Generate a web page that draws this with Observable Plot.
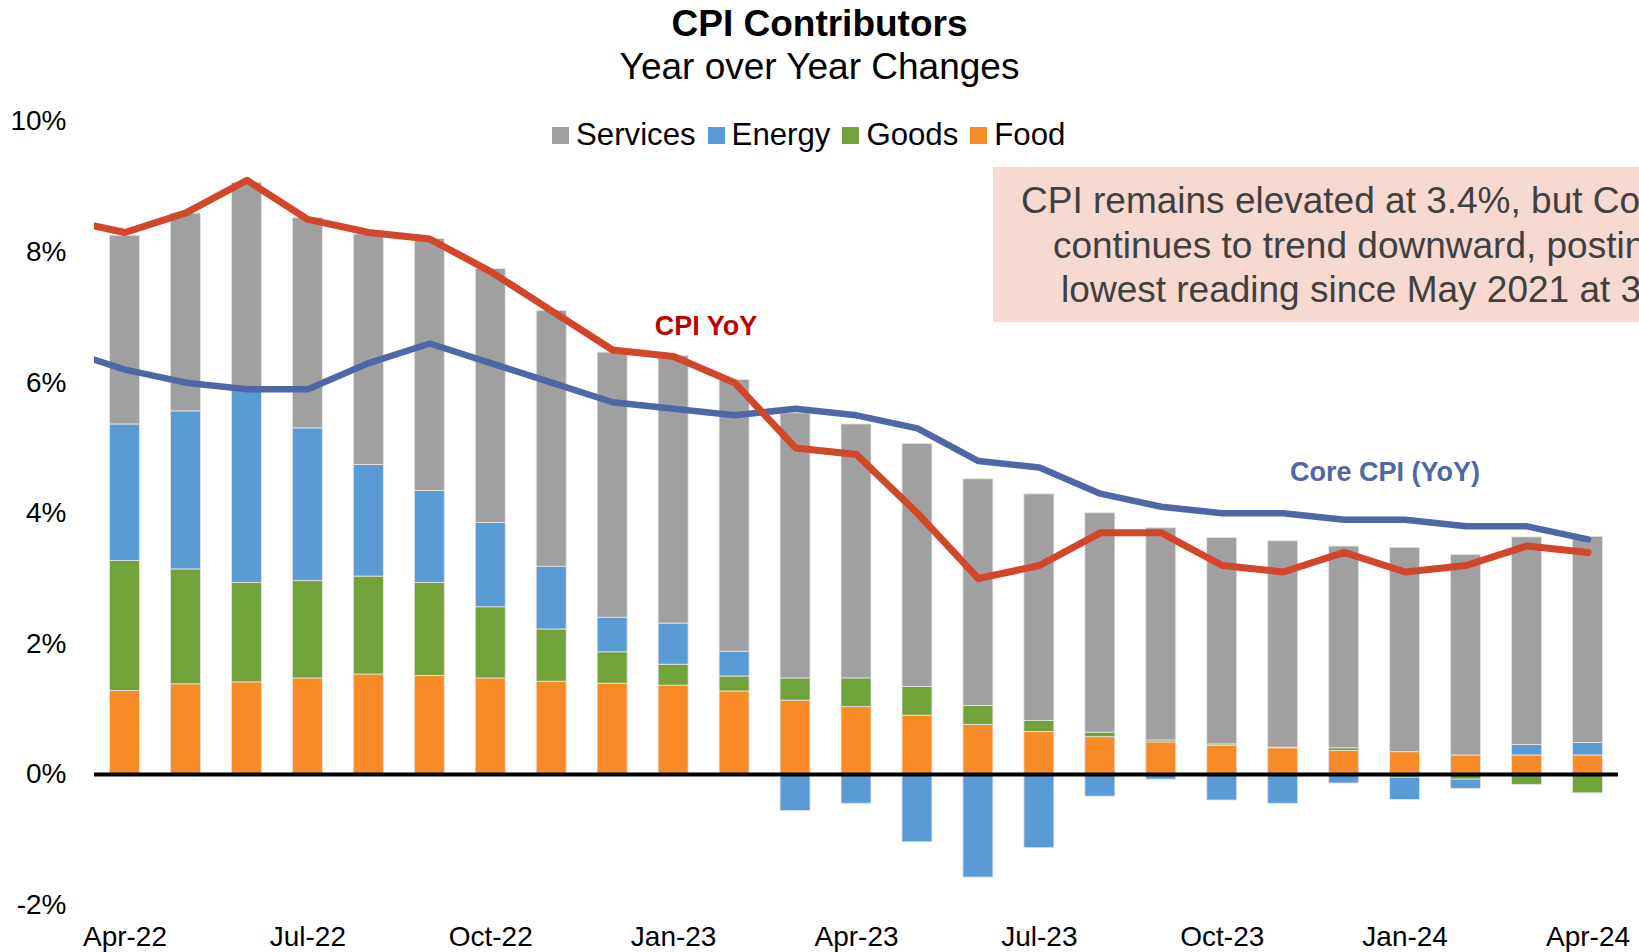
<!DOCTYPE html>
<html>
<head>
<meta charset="utf-8">
<script src="https://cdn.jsdelivr.net/npm/d3@7"></script>
<script src="https://cdn.jsdelivr.net/npm/@observablehq/plot@0.6"></script>
<style>
  html, body { margin: 0; padding: 0; background: #fff; overflow: hidden; }
  body { width: 1639px; height: 952px; position: relative; font-family: "Liberation Sans", Arial, sans-serif; color: #000; }
  #title { position: absolute; left: 0; width: 1639px; top: 5.4px; text-align: center; font-weight: bold; font-size: 37px; line-height: 37px; }
  #subtitle { position: absolute; left: 0; width: 1639px; top: 47.5px; text-align: center; font-size: 37px; line-height: 37px; }
  #chart { position: absolute; left: 0; top: 100px; }
  #legend { position: absolute; left: 552px; top: 119px; height: 32px; display: flex; align-items: center; font-size: 31.2px; line-height: 32px; white-space: nowrap; }
  #legend .item { display: flex; align-items: center; margin-right: 12px; }
  #legend .sw { width: 17px; height: 17px; margin-right: 7px; }
  #note { position: absolute; left: 993px; top: 166.7px; width: 780px; height: 155.5px; background: #F8D9D2; color: #404040; font-size: 37px; line-height: 44.2px; box-sizing: border-box; padding-top: 12.8px; white-space: nowrap; }
  #note div { position: relative; width: 780px; text-align: center; left: 0; }
</style>
</head>
<body>
<div id="title">CPI Contributors</div>
<div id="subtitle">Year over Year Changes</div>
<div id="chart"></div>
<div id="legend"></div>
<div id="note"></div>
<script>
// ---- data ----
const months = ["Apr-22","May-22","Jun-22","Jul-22","Aug-22","Sep-22","Oct-22","Nov-22","Dec-22",
  "Jan-23","Feb-23","Mar-23","Apr-23","May-23","Jun-23","Jul-23","Aug-23","Sep-23","Oct-23","Nov-23","Dec-23",
  "Jan-24","Feb-24","Mar-24","Apr-24"];
const food     = [1.28,1.38,1.41,1.47,1.53,1.51,1.47,1.42,1.39,1.36,1.27,1.13,1.03,0.90,0.76,0.65,0.57,0.49,0.44,0.40,0.36,0.34,0.29,0.29,0.29];
const goods    = [1.99,1.76,1.52,1.49,1.50,1.42,1.09,0.80,0.48,0.32,0.23,0.34,0.44,0.44,0.29,0.17,0.07,0.03,0.02,0.01,0.04,-0.05,-0.08,-0.16,-0.29];
const energy   = [2.09,2.42,2.94,2.34,1.71,1.41,1.29,0.96,0.53,0.63,0.38,-0.56,-0.45,-1.04,-1.58,-1.13,-0.34,-0.08,-0.40,-0.45,-0.14,-0.34,-0.14,0.16,0.19];
const services = [2.89,3.03,3.19,3.22,3.53,3.86,3.89,3.92,4.06,4.10,4.16,4.06,3.89,3.72,3.47,3.47,3.36,3.25,3.16,3.16,3.09,3.13,3.07,3.18,3.16];
// line series start one month earlier (Mar-22), clipped at the plot edge
const lineMonths = ["Mar-22", ...months];
const cpiYoY  = [8.5,8.3,8.6,9.1,8.5,8.3,8.2,7.7,7.1,6.5,6.4,6.0,5.0,4.9,4.0,3.0,3.2,3.7,3.7,3.2,3.1,3.4,3.1,3.2,3.5,3.4];
const coreYoY = [6.5,6.2,6.0,5.9,5.9,6.3,6.6,6.3,6.0,5.7,5.6,5.5,5.6,5.5,5.3,4.8,4.7,4.3,4.1,4.0,4.0,3.9,3.9,3.8,3.8,3.6];
const legendNames = ["Services","Energy","Goods","Food"];
const stackOrder  = ["Food","Goods","Energy","Services"];
const seriesColors = {Services: "#A0A0A0", Energy: "#5B9BD5", Goods: "#71A33A", Food: "#F88A28"};
const xTickMonths = ["Apr-22","Jul-22","Oct-22","Jan-23","Apr-23","Jul-23","Oct-23","Jan-24","Apr-24"];
const yTicks = [-2, 0, 2, 4, 6, 8, 10];
const lineLabels = [
  {text: "CPI YoY", month: 9.53, value: 6.87, color: "#C00000"},
  {text: "Core CPI (YoY)", month: 20.67, value: 4.63, color: "#4F67A6"}
];
const noteLines = ["CPI remains elevated at 3.4%, but Core CPI", "continues to trend downward, posting its", "lowest reading since May 2021 at 3.6%"];

// ---- tables ----
const values = {Food: food, Goods: goods, Energy: energy, Services: services};
const rows = months.flatMap((m, i) => stackOrder.map(s => ({i, month: m, series: s, value: values[s][i]})));
const cpiRows  = lineMonths.map((m, k) => ({i: k - 1, month: m, v: cpiYoY[k]}));
const coreRows = lineMonths.map((m, k) => ({i: k - 1, month: m, v: coreYoY[k]}));

const chart = Plot.plot({
  width: 1639,
  height: 852,
  marginTop: 21,
  marginBottom: 47.5,
  marginLeft: 94,
  marginRight: 21,
  style: {fontFamily: "'Liberation Sans', Arial, sans-serif", fontSize: "28px", color: "#000", background: "transparent", overflow: "visible"},
  x: {type: "linear", domain: [-0.5, months.length - 0.5], ticks: xTickMonths.map(m => months.indexOf(m)),
      tickFormat: i => months[i], tickSize: 0, tickPadding: 21.5, label: null, fontSize: 27},
  y: {domain: [-2, 10], ticks: yTicks, tickFormat: d => d + "%", tickSize: 0, tickPadding: 28, label: null},
  color: {domain: stackOrder, range: stackOrder.map(s => seriesColors[s])},
  marks: [
    Plot.rectY(rows, {x1: d => d.i - 0.5, x2: d => d.i + 0.5, y: "value", z: "series", fill: "series",
      order: stackOrder, insetLeft: 15.5, insetRight: 15.5, stroke: "#e4e4e4", strokeWidth: 0.8}),
    Plot.ruleY([0], {stroke: "#000", strokeWidth: 4}),
    Plot.line(coreRows, {x: "i", y: "v", stroke: "#4F67A6", strokeWidth: 6.5, strokeLinejoin: "round", strokeLinecap: "round", clip: true}),
    Plot.line(cpiRows, {x: "i", y: "v", stroke: "#D2462A", strokeWidth: 7, strokeLinejoin: "round", strokeLinecap: "round", clip: true}),
    Plot.text(lineLabels, {x: "month", y: "value", text: "text", fill: "color", fontSize: 27, fontWeight: "bold"})
  ]
});
document.getElementById("chart").appendChild(chart);

const legend = document.getElementById("legend");
legendNames.forEach(n => {
  const it = document.createElement("div");
  it.className = "item";
  const sw = document.createElement("div");
  sw.className = "sw";
  sw.style.background = seriesColors[n];
  const t = document.createElement("span");
  t.textContent = n;
  it.appendChild(sw); it.appendChild(t);
  legend.appendChild(it);
});
const note = document.getElementById("note");
noteLines.forEach(l => { const d = document.createElement("div"); d.textContent = l; note.appendChild(d); });
</script>
</body>
</html>
